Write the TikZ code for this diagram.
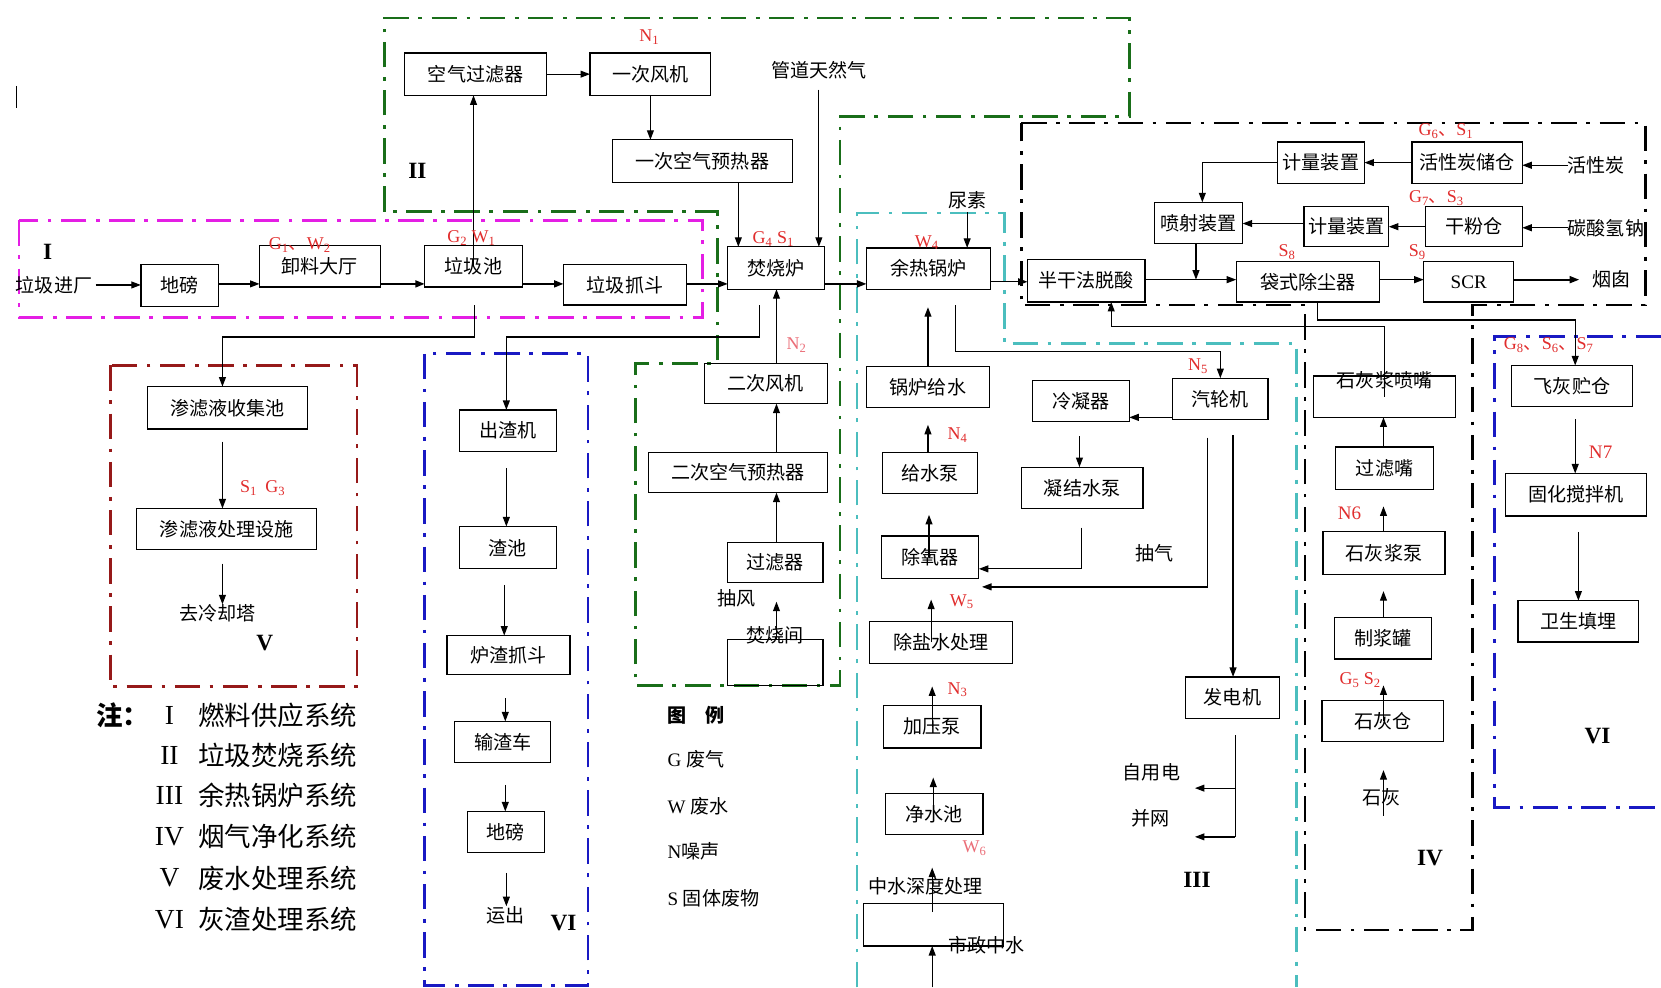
\documentclass[tikz,border=0pt]{standalone}
\usepackage{fontspec}
\setmainfont{Liberation Serif}
\newfontfamily\cjk{Noto Sans CJK SC}
\usetikzlibrary{arrows.meta,fit}
\definecolor{cmag}{RGB}{228,30,228}
\definecolor{cgreen}{RGB}{25,110,25}
\definecolor{ccyan}{RGB}{75,190,190}
\definecolor{cblue}{RGB}{25,25,195}
\definecolor{cdred}{RGB}{150,25,25}
\definecolor{cred}{RGB}{225,45,45}
\definecolor{cpink}{RGB}{235,110,120}
\newcommand{\mkbox}[6]{\node[bx,fit={(#2,#3) (#4,#5)}] (#1) {};\node[tx] (#1t) at (#1.center) {#6};}
\newcommand{\mkboxt}[7]{\node[bx,fit={(#2,#3) (#4,#5)}] (#1) {};\node[tx] (#1t) at (#1.center |- 0,#7) {#6};}
\begin{document}
\begin{tikzpicture}[x=1pt,y=-1pt,
 bx/.style={draw,line width=1.2pt,inner sep=0pt,outer sep=0pt},
 tx/.style={inner sep=0pt,font=\cjk\fontsize{18}{18}\selectfont},
 arr/.style={line width=1.2pt,-{Triangle[length=9pt,width=6.5pt]}},
 ln/.style={line width=1.2pt},
 reg/.style={line width=2.6pt,dash pattern=on 24pt off 9pt on 3.5pt off 9pt},
 lb/.style={inner sep=0pt,text=cred,font=\fontsize{17}{17}\selectfont},
 rn/.style={inner sep=0pt,font=\bfseries\fontsize{22}{22}\selectfont},
 nr/.style={inner sep=0pt,font=\fontsize{26}{26}\selectfont},
 nc/.style={inner sep=0pt,anchor=west,font=\cjk\fontsize{25}{25}\selectfont},
 lg/.style={inner sep=0pt,anchor=west,font=\fontsize{18}{18}\selectfont},
]
\useasboundingbox (0,0) rectangle (1568,932);
\fill[white] (0,0) rectangle (1568,932);

% ---------- regions ----------
\draw[reg,cmag] (18,208) rectangle (663,300);
\draw[reg,cgreen] (363,200) -- (363,17) -- (1066,17) -- (1066,110) -- (793,110) -- (793,647) -- (600,647) -- (600,343) -- (677,343) -- (677,200) -- cycle;
\draw[reg,ccyan] (809,932) -- (809,201) -- (948,201) -- (948,324) -- (1224,324) -- (1224,932);
\draw[reg,black] (964,116) -- (1553,116) -- (1553,288) -- (1390,288) -- (1390,878) -- (1232,878) -- (1232,288) -- (964,288) -- cycle;
\draw[reg,cblue] (401,334) rectangle (555,930);
\draw[reg,cblue] (1568,318) -- (1411,318) -- (1411,762) -- (1568,762);
\draw[reg,cdred] (104,345) rectangle (337,648);

\draw[line width=1.6pt] (15.5,81) -- (15.5,102);

% ---------- region labels ----------
\node[rn] (rI) at (45,238) {I};
\node[rn] (rII) at (394,161) {II};
\node[rn] (rIII) at (1130,831) {III};
\node[rn] (rIV) at (1350,810) {IV};
\node[rn] (rV) at (250,607) {V};
\node[rn] (rVIa) at (532,871) {VI};
\node[rn] (rVIb) at (1508,695) {VI};

% ---------- boxes: I / II ----------
\mkbox{kq}{382}{50}{516}{90}{空气过滤器}
\mkbox{yc}{557}{50}{671}{90}{一次风机}
\mkbox{ycyr}{578}{132}{748}{172}{一次空气预热器}
\mkbox{fsl}{687}{233}{778}{273}{焚烧炉}
\mkbox{db}{133}{250}{206}{289}{地磅}
\mkbox{xl}{245}{232}{359}{271}{卸料大厅}
\mkbox{ljc}{401}{232}{493}{271}{垃圾池}
\mkbox{zd}{532}{250}{648}{288}{垃圾抓斗}
\mkbox{ecfj}{665}{343}{781}{381}{二次风机}
\mkbox{ecyr}{612}{427}{781}{465}{二次空气预热器}
\mkbox{glq}{687}{512}{777}{550}{过滤器}
\mkboxt{fsj}{687}{604}{777}{647}{焚烧间}{600}

% ---------- V ----------
\mkbox{slsj}{139}{365}{290}{405}{渗滤液收集池}
\mkbox{slcl}{129}{480}{299}{519}{渗滤液处理设施}

% ---------- VI left ----------
\mkbox{czj}{434}{387}{525}{426}{出渣机}
\mkbox{zc}{434}{497}{525}{537}{渣池}
\mkbox{lzzd}{422}{600}{538}{637}{炉渣抓斗}
\mkbox{szc}{429}{681}{520}{720}{输渣车}
\mkbox{dbb}{441}{766}{514}{805}{地磅}

% ---------- III ----------
\mkbox{yrgl}{818}{234}{935}{273}{余热锅炉}
\mkbox{glgs}{818}{346}{934}{385}{锅炉给水}
\mkbox{gsb}{833}{427}{923}{466}{给水泵}
\mkbox{cyq}{832}{506}{924}{546}{除氧器}
\mkbox{cysc}{821}{587}{956}{626}{除盐水处理}
\mkbox{jyb}{834}{666}{926}{706}{加压泵}
\mkbox{jsc}{836}{749}{928}{788}{净水池}
\node[bx,fit={(815,853) (947,893)}] (zsh) {};
\mkbox{qlj}{1107}{357}{1197}{396}{汽轮机}
\mkbox{lnq}{975}{359}{1066}{398}{冷凝器}
\mkbox{njsb}{964}{441}{1079}{480}{凝结水泵}
\mkbox{fdj}{1119}{639}{1208}{678}{发电机}

% ---------- IV ----------
\mkbox{dfs}{970}{245}{1081}{285}{半干法脱酸}
\mkbox{psz}{1090}{191}{1173}{230}{喷射装置}
\mkbox{jla}{1206}{134}{1288}{173}{计量装置}
\mkbox{hxt}{1333}{134}{1437}{173}{活性炭储仓}
\mkbox{jlb}{1231}{195}{1311}{233}{计量装置}
\mkbox{gfc}{1346}{195}{1437}{233}{干粉仓}
\mkbox{dscc}{1167}{247}{1302}{285}{袋式除尘器}
\node[bx,fit={(1344,247) (1429,285)}] (scr) {};
\node[inner sep=0pt,font=\fontsize{18}{18}\selectfont] (scrt) at (scr.center) {SCR};
\mkboxt{shjpz}{1240}{355}{1374}{394}{石灰浆喷嘴}{359}
\mkbox{glz}{1261}{422}{1353}{462}{过滤嘴}
\mkbox{shjb}{1249}{502}{1364}{542}{石灰浆泵}
\mkbox{zjg}{1260}{583}{1351}{622}{制浆罐}
\mkbox{shc}{1248}{661}{1363}{700}{石灰仓}

% ---------- VI right ----------
\mkbox{fhzc}{1427}{345}{1541}{384}{飞灰贮仓}
\mkbox{ghjb}{1421}{447}{1554}{487}{固化搅拌机}
\mkbox{wstm}{1433}{567}{1547}{606}{卫生填埋}

% ---------- free texts ----------
\node[tx] (ljjc) at (51,269) {垃圾进厂};
\node[tx] (gdt) at (773,66) {管道天然气};
\node[tx] (niaosu) at (913,189) {尿素};
\node[tx] (choufeng) at (695,565) {抽风};
\node[tx] (qlqt) at (205,579) {去冷却塔};
\node[tx] (yunchu) at (477,864) {运出};
\node[tx] (chouqi) at (1090,522) {抽气};
\node[tx] (zyd) at (1087,729) {自用电};
\node[tx] (bw) at (1086,772) {并网};
\node[tx] (zshT) at (874,837) {中水深度处理};
\node[tx] (szzs) at (931,892) {市政中水};
\node[tx] (hxtT) at (1507,156) {活性炭};
\node[tx] (tsqT) at (1516,215) {碳酸氢钠};
\node[tx] (yct) at (1521,264) {烟囱};
\node[tx] (shT) at (1304,753) {石灰};

% ---------- connectors: main flow ----------
\draw[arr,shorten <=3pt] (ljjc.east) -- (db.west |- ljjc.east);
\draw[arr] (db.east |- 0,268) -- (xl.west |- 0,268);
\draw[arr,line width=2pt] (xl.east |- 0,268) -- (ljc.west |- 0,268);
\draw[arr,line width=2pt] (ljc.east |- 0,268) -- (zd.west |- 0,268);
\draw[arr] (zd.east |- 0,268) -- (fsl.west |- 0,268);
\draw[arr,line width=1.8pt] (fsl.east |- 0,268) -- (yrgl.west |- 0,268);
\draw[arr] (yrgl.east |- 0,266) -- (dfs.west |- 0,266);
\draw[arr] (dfs.east |- 0,264) -- (dscc.west |- 0,264);
\draw[arr] (dscc.east |- 0,264) -- (scr.west |- 0,264);
\draw[arr,line width=1.8pt,shorten >=12pt] (scr.east |- 0,264) -- (yct.west |- 0,264);

% ---------- II ----------
\draw[arr] (ljc.center) -- (ljc.center |- kq.south);
\draw[arr] (kq.east) -- (yc.west);
\draw[arr] (yc.south) -- (yc.south |- ycyr.north);
\draw[arr] (ycyr.south -| 697,0) -- (fsl.north -| 697,0);
\draw[arr,shorten <=10pt] (gdt.south) -- (gdt.south |- fsl.north);
\draw[arr] (ecfj.north -| 733,0) -- (fsl.south -| 733,0);
\draw[arr] (ecyr.north -| 733,0) -- (ecfj.south -| 733,0);
\draw[arr] (glq.north -| 733,0) -- (ecyr.south -| 733,0);
\draw[arr,shorten >=18pt] (fsj.north -| 733,0) -- (glq.south -| 733,0);

% ---------- to V and VI ----------
\coordinate (ljcb) at (448,288);
\draw[arr] (ljcb) -- (448,318) -- (210,318) -- (slsj.north -| 210,0);
\coordinate (fslb) at (717,288);
\draw[arr] (fslb) -- (717,318) -- (478,318) -- (czj.north -| 478,0);
\draw[arr,shorten <=12pt] (slsj.south -| 210,0) -- (slcl.north -| 210,0);
\draw[arr,shorten <=13pt] (slcl.south -| 210,0) -- (qlqt.north -| 210,0);
\draw[arr,shorten <=16pt] (czj.south -| 478,0) -- (zc.north -| 478,0);
\draw[arr,shorten <=15pt] (zc.south -| 476,0) -- (lzzd.north -| 476,0);
\draw[arr,shorten <=22pt] (lzzd.south -| 477,0) -- (szc.north -| 477,0);
\draw[arr,shorten <=21pt] (szc.south -| 477,0) -- (dbb.north -| 477,0);
\draw[arr,shorten <=19pt] (dbb.south -| 478,0) -- (yunchu.north -| 478,0);

% ---------- III ----------
\draw[arr,shorten <=3pt] (niaosu.south) -- (niaosu.south |- yrgl.north);
\draw[arr,shorten >=17pt] (glgs.north -| 876,0) -- (yrgl.south -| 876,0);
\coordinate (yrglb) at (902,288);
\draw[arr] (yrglb) -- (902,332) -- (1152,332) -- (qlj.north -| 1152,0);
\draw[arr] (qlj.west |- 0,394) -- (lnq.east |- 0,394);
\draw[arr,shorten <=14pt] (lnq.south -| 1019,0) -- (njsb.north -| 1019,0);
\draw[arr,shorten <=18pt] (njsb.south -| 1021,0) -- (1021,537) -- (cyq.east |- 0,537);
\coordinate (cyqin) at (927,554);
\draw[arr,shorten <=17pt] (qlj.south -| 1140,0) -- (1140,554) -- (cyqin);
\draw[arr,shorten <=15pt] (qlj.south -| 1164,0) -- (fdj.north -| 1164,0);
\coordinate (fdjb) at (1166,790);
\coordinate (zydin) at (1128,744);
\coordinate (bwin) at (1128,790);
\draw[ln,shorten <=16pt] (fdj.south -| 1166,0) -- (fdjb);
\draw[arr] (1166,744) -- (zydin);
\draw[arr] (fdjb) -- (bwin);
\draw[arr,shorten >=16pt] (gsb.north -| 876,0) -- (glgs.south -| 876,0);
\draw[arr,shorten >=20pt] (cyq.center -| 877,0) -- (gsb.south -| 877,0);
\draw[arr,shorten >=20pt] (cysc.center -| 879,0) -- (cyq.south -| 879,0);
\draw[arr,shorten >=22pt] (jyb.center -| 880,0) -- (cysc.south -| 880,0);
\draw[arr,shorten >=28pt] (jsc.center -| 881,0) -- (jyb.south -| 881,0);
\draw[arr,shorten <=12pt,shorten >=31pt] (zsh.center -| 880,0) -- (jsc.south -| 880,0);
\coordinate (zshin) at (880,932);
\draw[arr] (zshin) -- (zsh.south -| 880,0);

% ---------- IV ----------
\draw[arr] (hxtT.west) -- (hxt.east |- hxtT.west);
\draw[arr] (hxt.west) -- (jla.east);
\draw[arr] (jla.west) -- (jla.west -| 1135,0) -- (psz.north -| 1135,0);
\draw[arr] (tsqT.west) -- (gfc.east |- tsqT.west);
\draw[arr] (gfc.west) -- (jlb.east |- gfc.west);
\draw[arr] (jlb.west |- 0,211) -- (psz.east |- 0,211);
\coordinate (pszin) at (1129,264);
\draw[arr] (psz.south -| 1129,0) -- (pszin);
\draw[arr] (shjpz.center) |- (1049,308) -- (dfs.south -| 1049,0);
\draw[arr] (dscc.south -| 1244,0) |- (1487,302) -- (fhzc.north -| 1487,0);
\draw[arr] (glz.north -| 1306,0) -- (shjpz.south -| 1306,0);
\draw[arr,shorten >=16pt] (shjb.north -| 1306,0) -- (glz.south -| 1306,0);
\draw[arr,shorten >=16pt] (zjg.north -| 1306,0) -- (shjb.south -| 1306,0);
\draw[arr,shorten >=25pt] (shc.center -| 1306,0) -- (zjg.south -| 1306,0);
\coordinate (shin) at (1306,770);
\draw[arr,shorten >=27pt] (shin) -- (shc.south -| 1306,0);
\draw[arr,shorten <=12pt] (fhzc.south -| 1487,0) -- (ghjb.north -| 1487,0);
\draw[arr,shorten <=15pt] (ghjb.south -| 1490,0) -- (wstm.north -| 1490,0);

% ---------- red labels ----------
\node[lb] (lN1) at (613,35) {N\textsubscript{1}};
\node[lb] (lG1) at (283,231) {G\textsubscript{1}{\cjk 、}W\textsubscript{2}};
\node[lb] (lG2) at (445,225) {G\textsubscript{2} W\textsubscript{1}};
\node[lb] (lG4) at (730,226) {G\textsubscript{4} S\textsubscript{1}};
\node[lb,text=cpink] (lN2) at (752,326) {N\textsubscript{2}};
\node[lb] (lW4) at (875,229) {W\textsubscript{4}};
\node[lb] (lN5) at (1131,346) {N\textsubscript{5}};
\node[lb] (lN4) at (904,411) {N\textsubscript{4}};
\node[lb] (lW5) at (908,568) {W\textsubscript{5}};
\node[lb] (lN3) at (904,651) {N\textsubscript{3}};
\node[lb,text=cpink] (lW6) at (920,801) {W\textsubscript{6}};
\node[lb] (lS1) at (248,461) {S\textsubscript{1}\hspace{8pt}G\textsubscript{3}};
\node[lb] (lG6) at (1365,124) {G\textsubscript{6}{\cjk 、}S\textsubscript{1}};
\node[lb] (lG7) at (1356,187) {G\textsubscript{7}{\cjk 、}S\textsubscript{3}};
\node[lb] (lS8) at (1215,238) {S\textsubscript{8}};
\node[lb] (lS9) at (1338,238) {S\textsubscript{9}};
\node[lb] (lG8) at (1462,326) {G\textsubscript{8}{\cjk 、}S\textsubscript{6}{\cjk 、}S\textsubscript{7}};
\node[lb,font=\fontsize{18}{18}\selectfont] (lN6) at (1274,485) {N6};
\node[lb,font=\fontsize{18}{18}\selectfont] (lN7) at (1511,427) {N7};
\node[lb] (lG5) at (1284,642) {G\textsubscript{5} S\textsubscript{2}};

% ---------- legend ----------
\node[lg,font=\cjk\bfseries\fontsize{18}{18}\selectfont] (tuli) at (630,675) {图\hspace{18pt}例};
\node[lg] (lgG) at (630,717) {G {\cjk 废气}};
\node[lg] (lgW) at (630,761) {W {\cjk 废水}};
\node[lg] (lgN) at (630,804) {N{\cjk 噪声}};
\node[lg] (lgS) at (630,848) {S {\cjk 固体废物}};

\node[inner sep=0pt,font=\cjk\bfseries\fontsize{25}{25}\selectfont] (zhu) at (116,675) {注：};
\node[nr] (n1r) at (160,675) {I};   \node[nc] (n1t) at (187,675) {燃料供应系统};
\node[nr] (n2r) at (160,713) {II};  \node[nc] (n2t) at (187,713) {垃圾焚烧系统};
\node[nr] (n3r) at (160,751) {III}; \node[nc] (n3t) at (187,751) {余热锅炉系统};
\node[nr] (n4r) at (160,790) {IV};  \node[nc] (n4t) at (187,790) {烟气净化系统};
\node[nr] (n5r) at (160,829) {V};   \node[nc] (n5t) at (187,829) {废水处理系统};
\node[nr] (n6r) at (160,868) {VI};  \node[nc] (n6t) at (187,868) {灰渣处理系统};
\end{tikzpicture}
\end{document}
